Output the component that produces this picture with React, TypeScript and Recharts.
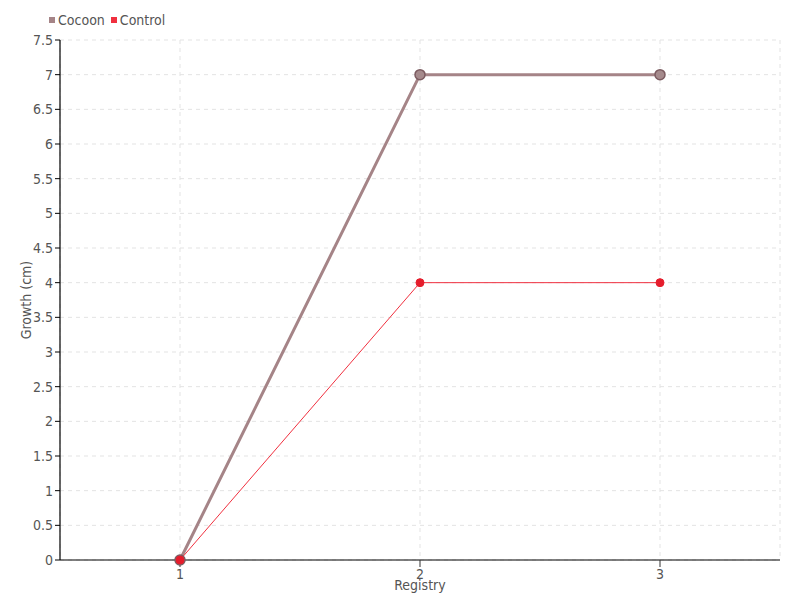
import { LineChart, Line, XAxis, YAxis, CartesianGrid, Legend } from "recharts";

const registry = ["1", "2", "3"];
const cocoon = [0, 7, 7];
const control = [0, 4, 4];
const yTicks = [0, 0.5, 1, 1.5, 2, 2.5, 3, 3.5, 4, 4.5, 5, 5.5, 6, 6.5, 7, 7.5];

const data = registry.map((r, i) => ({ registry: r, cocoon: cocoon[i], control: control[i] }));

const FONT = "'DejaVu Sans Condensed', 'Liberation Sans Narrow', 'DejaVu Sans', sans-serif";
const txt = { fill: "#555", fontFamily: FONT, fontSize: 14, fontStretch: "condensed" };

const renderLegend = (props: any) => {
  const { payload } = props;
  return (
    <div style={{ display: "flex", gap: 6, fontFamily: FONT, fontStretch: "condensed", fontSize: 14, color: "#555" }}>
      {payload.map((p: any) => (
        <span key={p.value} style={{ display: "flex", alignItems: "center" }}>
          <span style={{ width: 6, height: 6, background: p.color, display: "inline-block", marginRight: 3 }} />
          {p.value}
        </span>
      ))}
    </div>
  );
};

export default function App() {
  return (
    <div style={{ position: "absolute", left: 0, top: 0, width: 800, height: 600, background: "#fff", overflow: "hidden" }}>
      <LineChart width={800} height={600} data={data} margin={{ top: 40, right: 20, bottom: 10, left: 0 }}>
        <CartesianGrid stroke="#e3e3e3" strokeDasharray="4 4" />
        <XAxis
          dataKey="registry"
          padding={{ left: 120, right: 120 }}
          height={30}
          axisLine={{ stroke: "#000", strokeWidth: 1.2 }}
          tickLine={{ stroke: "#333" }}
          tickSize={7}
          tick={txt}
          label={{ value: "Registry", position: "insideBottom", offset: 0, ...txt }}
        />
        <YAxis
          width={60}
          domain={[0, 7.5]}
          ticks={yTicks}
          interval={0}
          axisLine={{ stroke: "#000", strokeWidth: 1.2 }}
          tickLine={{ stroke: "#000" }}
          tickSize={5}
          tick={txt}
          label={{ value: "Growth (cm)", angle: -90, position: "insideLeft", offset: 26, ...txt, style: { textAnchor: "middle" } }}
        />
        <Legend verticalAlign="middle" align="center" content={renderLegend} wrapperStyle={{ top: 12, left: 49, width: "auto" }} />
        <Line
          name="Cocoon"
          dataKey="cocoon"
          stroke="#a58487"
          strokeWidth={3}
          dot={{ r: 5, fill: "#a58a8c", stroke: "#7c5b60", strokeWidth: 1.5 }}
          isAnimationActive={false}
        />
        <Line
          name="Control"
          dataKey="control"
          stroke="#f0303f"
          strokeWidth={1}
          dot={{ r: 4, fill: "#e51d2c", stroke: "#e51d2c", strokeWidth: 1 }}
          isAnimationActive={false}
        />
      </LineChart>
    </div>
  );
}
